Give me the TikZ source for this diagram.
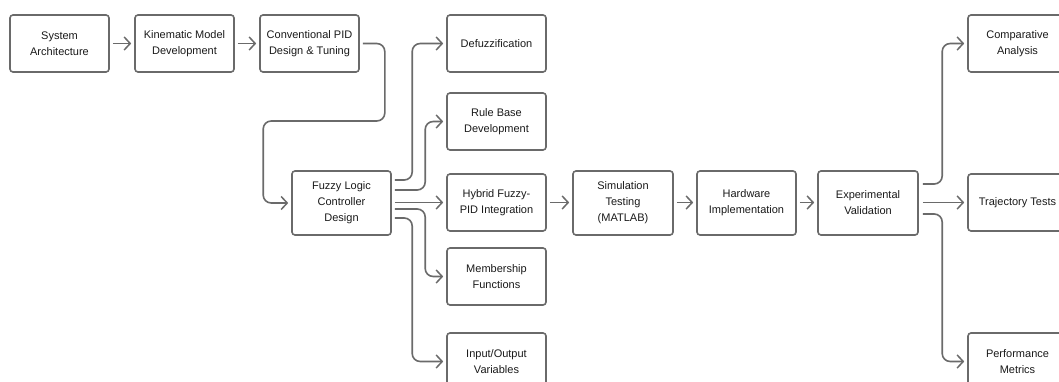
\documentclass[tikz,border=0pt]{standalone}
\usepackage{fontspec}
\setmainfont{Liberation Sans}
\usetikzlibrary{arrows.meta,calc}
\definecolor{edge}{HTML}{6A6A6A}
\definecolor{ink}{HTML}{1A1A1A}
\tikzset{
  box/.style={draw=edge, line width=1.6pt, rounded corners=3pt, fill=white,
    minimum width=99pt, minimum height=57pt, align=center, text=ink,
    font=\fontsize{11}{16}\selectfont, inner sep=0pt},
  tall/.style={minimum height=64pt},
  conn/.style={draw=edge, line width=1.6pt, rounded corners=8pt,
    -{Straight Barb[length=6pt,width=13pt,line width=1.5pt]}}
}
\begin{document}
\begin{tikzpicture}[x=1pt,y=-1pt]
\useasboundingbox (0,0) rectangle (1059,382);
\fill[white] (0,0) rectangle (1059,382);

% first row
\node[box] (sys) at (59.5,43.5) {System\\Architecture};
\node[box] (kin) at (184.5,43.5) {Kinematic Model\\Development};
\node[box] (con) at (309.5,43.5) {Conventional PID\\Design \& Tuning};

% fuzzy controller and its components
\node[box,tall] (fuz) at (341.5,203) {Fuzzy Logic\\Controller\\Design};
\node[box] (def) at (496.5,43.5) {Defuzzification};
\node[box] (rul) at (496.5,121.5) {Rule Base\\Development};
\node[box] (hyb) at (496.5,202.5) {Hybrid Fuzzy-\\PID Integration};
\node[box] (mem) at (496.5,276.5) {Membership\\Functions};
\node[box] (io)  at (496.5,361.5) {Input/Output\\Variables};

% main pipeline
\node[box,tall,minimum width=100pt] (sim) at (623,203) {Simulation\\Testing\\(MATLAB)};
\node[box,tall] (hw) at (746.5,203) {Hardware\\Implementation};
\node[box,tall,minimum width=100pt] (exp) at (868,203) {Experimental\\Validation};

% validation outcomes
\node[box] (cmp) at (1017.5,43.5) {Comparative\\Analysis};
\node[box] (trj) at (1017.5,202.5) {Trajectory Tests};
\node[box] (prf) at (1017.5,361.5) {Performance\\Metrics};

\coordinate (bend) at (324,121);

% connectors
\draw[conn] ([xshift=3pt]sys.east) -- ([xshift=-3pt]kin.west);
\draw[conn] ([xshift=3pt]kin.east) -- ([xshift=-3pt]con.west);
\draw[conn] ([xshift=3pt]con.east) -- ++(22,0) |- (bend) -| ([xshift=-28pt]fuz.west) -- ([xshift=-3pt]fuz.west);

\draw[conn] ([xshift=3pt,yshift=23pt]fuz.east) -| ([xshift=-34pt]def.west) -- ([xshift=-3pt]def.west);
\draw[conn] ([xshift=3pt,yshift=13pt]fuz.east) -| ([xshift=-21pt]rul.west) -- ([xshift=-3pt]rul.west);
\draw[conn] ([xshift=3pt]fuz.east |- hyb.west) -- ([xshift=-3pt]hyb.west);
\draw[conn] ([xshift=3pt,yshift=-6pt]fuz.east) -| ([xshift=-21pt]mem.west) -- ([xshift=-3pt]mem.west);
\draw[conn] ([xshift=3pt,yshift=-15pt]fuz.east) -| ([xshift=-34pt]io.west) -- ([xshift=-3pt]io.west);

\draw[conn] ([xshift=3pt]hyb.east) -- ([xshift=-3pt]sim.west |- hyb.east);
\draw[conn] ([xshift=3pt]sim.east |- hyb.east) -- ([xshift=-3pt]hw.west |- hyb.east);
\draw[conn] ([xshift=3pt]hw.east |- hyb.east) -- ([xshift=-3pt]exp.west |- hyb.east);

\draw[conn] ([xshift=4pt,yshift=19pt]exp.east) -| ([xshift=-25pt]cmp.west) -- ([xshift=-3pt]cmp.west);
\draw[conn] ([xshift=4pt]exp.east |- trj.west) -- ([xshift=-3pt]trj.west);
\draw[conn] ([xshift=4pt,yshift=-11pt]exp.east) -| ([xshift=-25pt]prf.west) -- ([xshift=-3pt]prf.west);
\end{tikzpicture}
\end{document}
